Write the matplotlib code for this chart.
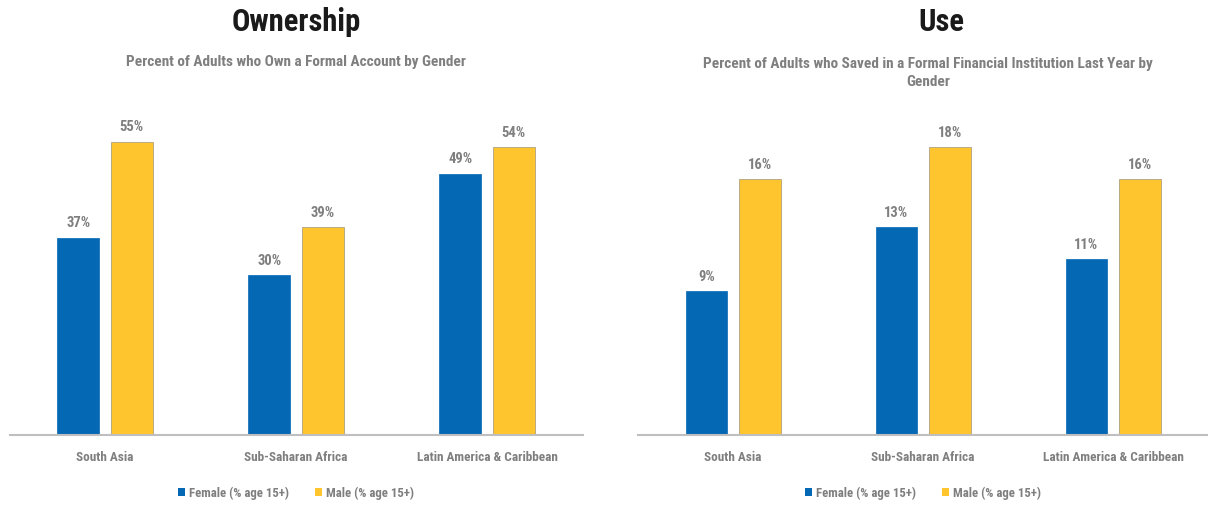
import numpy as np
import matplotlib
matplotlib.use('Agg')
import matplotlib.pyplot as plt
from matplotlib import font_manager
from matplotlib.patches import Patch

# pick a narrow-ish font if one is installed
narrow = 'DejaVu Sans'
for name in ['Roboto Condensed', 'Open Sans Condensed', 'Liberation Sans Narrow', 'Liberation Sans']:
    try:
        font_manager.findfont(name, fallback_to_default=False)
        narrow = name
        break
    except Exception:
        pass
plt.rcParams['font.family'] = [narrow, 'DejaVu Sans']

# Data
regions = ['South Asia', 'Sub-Saharan Africa', 'Latin America & Caribbean']
own_female = [37, 30, 49]
own_male = [55, 39, 54]
use_female = [9, 13, 11]
use_male = [16, 18, 16]
series_names = ['Female (% age 15+)', 'Male (% age 15+)']

blue = '#0568B5'
yellow = '#FFC52F'
gray = '#7F7F7F'

fig = plt.figure(figsize=(12.08, 5.06), dpi=100)
ax1 = fig.add_axes([9.5 / 1208, 70 / 506, 573 / 1208, 320 / 506])
ax2 = fig.add_axes([638 / 1208, 70 / 506, 570 / 1208, 320 / 506])

x = np.arange(len(regions))
w = 0.22
off = 0.14


def draw(ax, female, male, ymax):
    bf = ax.bar(x - off, female, w, color=blue, edgecolor=blue, linewidth=0.5)
    bm = ax.bar(x + off, male, w, color=yellow, edgecolor='#B0A080', linewidth=0.6)
    for bars in (bf, bm):
        for b in bars:
            ax.annotate(f'{b.get_height():.0f}%', (b.get_x() + b.get_width() / 2, b.get_height()),
                        xytext=(0, 6), textcoords='offset points', ha='center', va='bottom',
                        fontsize=10.5, fontweight='bold', color=gray)
    ax.set_xlim(-0.5, 2.5)
    ax.set_ylim(0, ymax)
    ax.set_xticks(x)
    ax.set_xticklabels(regions, fontsize=9.5, fontweight='bold', color=gray)
    ax.tick_params(axis='x', length=0, pad=11)
    ax.set_yticks([])
    for s in ['top', 'right', 'left']:
        ax.spines[s].set_visible(False)
    ax.spines['bottom'].set_color('#BFBFBF')
    ax.spines['bottom'].set_linewidth(1.5)
    handles = [Patch(facecolor=blue), Patch(facecolor=yellow)]
    ax.legend(handles, series_names, loc='center', bbox_to_anchor=(0.5, -0.18), ncol=2,
              frameon=False, handlelength=0.6, handleheight=0.6, handletextpad=0.3,
              columnspacing=2.0, prop={'size': 9.2, 'weight': 'bold'}, labelcolor=gray)


draw(ax1, own_female, own_male, 60)
draw(ax2, use_female, use_male, 20)

fig.text(296 / 1208, 1 - 22 / 506, 'Ownership', ha='center', va='center',
         fontsize=22, fontweight='bold', color='#1A1A1A')
fig.text(296 / 1208, 1 - 62 / 506, 'Percent of Adults who Own a Formal Account by Gender',
         ha='center', va='center', fontsize=11, fontweight='bold', color=gray)
fig.text(941 / 1208, 1 - 22 / 506, 'Use', ha='center', va='center',
         fontsize=22, fontweight='bold', color='#1A1A1A')
fig.text(928 / 1208, 1 - 73 / 506,
         'Percent of Adults who Saved in a Formal Financial Institution Last Year by\nGender',
         ha='center', va='center', fontsize=11, fontweight='bold', color=gray, linespacing=1.45)

fig.savefig('out.png', dpi=100)
